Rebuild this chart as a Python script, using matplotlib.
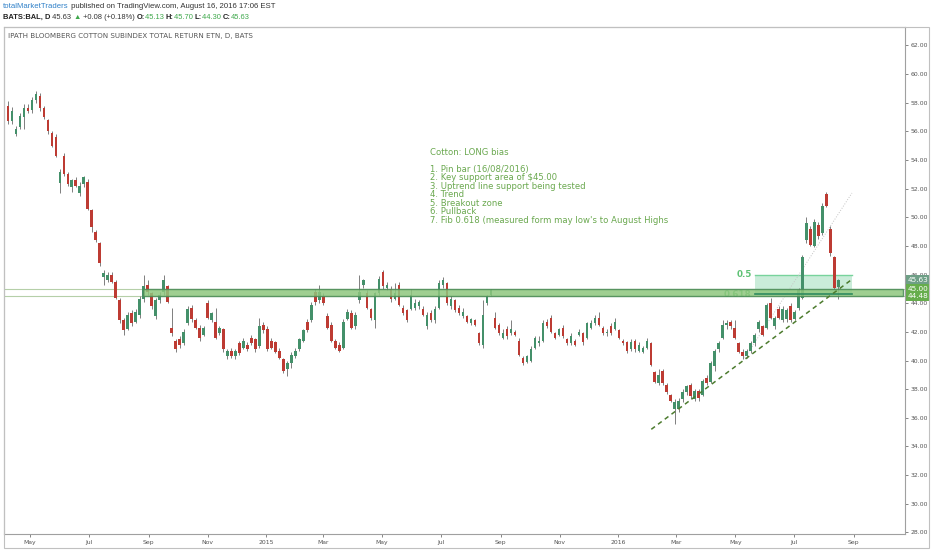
import numpy as np
import pandas as pd
import matplotlib
matplotlib.use("Agg")
import matplotlib.pyplot as plt
import matplotlib.dates as mdates
from matplotlib.patches import Rectangle

W, H = 932, 550

# daily-ish candles (Apr 2014 -> 16 Aug 2016)
opens = [57.8, 56.7, 55.8, 56.3, 57.0, 57.6, 57.5, 58.2, 58.5, 57.6, 56.8, 55.9, 55.6, 52.4, 54.3, 53.0, 52.1, 52.6, 51.7, 52.3,
         52.5, 50.5, 49.0, 48.2, 45.8, 45.6, 46.0, 45.5, 44.2, 42.8, 42.2, 43.3, 42.7, 43.2, 44.3, 45.3, 44.7, 43.1, 44.2, 44.8,
         45.2, 42.3, 41.4, 41.5, 41.2, 42.6, 43.7, 42.8, 42.3, 41.8, 44.0, 42.8, 42.7, 41.9, 42.2, 40.3, 40.7, 40.3, 41.2, 40.9,
         41.1, 41.6, 41.5, 41.0, 42.5, 42.2, 41.4, 41.3, 40.7, 40.1, 39.4, 39.8, 40.3, 40.8, 41.4, 42.7, 42.8, 44.8, 44.2, 44.5,
         43.1, 42.5, 41.4, 41.1, 40.9, 42.9, 43.3, 42.4, 44.2, 45.3, 44.7, 43.6, 42.8, 44.7, 46.2, 45.1, 45.0, 44.3, 45.3, 43.7,
         43.5, 43.6, 43.7, 43.8, 43.6, 42.4, 43.3, 42.8, 43.7, 45.3, 45.4, 43.8, 44.2, 43.7, 43.1, 43.1, 42.6, 42.8, 41.9, 41.1,
         44.0, 44.6, 43.0, 42.5, 41.6, 42.2, 41.9, 42.0, 41.4, 40.2, 39.9, 40.0, 40.9, 41.2, 41.4, 42.7, 43.0, 41.9, 41.8, 42.3,
         41.5, 41.2, 41.4, 41.8, 41.9, 41.6, 42.3, 42.6, 43.0, 42.3, 41.9, 42.4, 42.2, 42.1, 41.4, 41.3, 40.8, 41.4, 40.7, 40.6,
         40.9, 41.2, 39.2, 38.4, 39.3, 38.3, 37.6, 36.6, 36.6, 37.3, 37.8, 38.3, 37.3, 37.9, 37.6, 38.8, 38.5, 39.6, 40.8, 41.6,
         42.5, 42.7, 42.3, 41.2, 40.6, 40.3, 40.7, 41.2, 42.2, 42.4, 42.3, 44.0, 42.4, 43.6, 42.8, 42.9, 43.8, 42.9, 43.7, 44.4,
         48.4, 49.2, 48.0, 49.5, 48.9, 51.6, 49.2, 47.2, 45.13]
highs = [58.1, 57.7, 56.4, 57.3, 57.9, 57.9, 58.4, 58.8, 58.7, 57.8, 56.9, 56.0, 55.8, 53.4, 54.5, 53.2, 52.7, 52.8, 52.5, 52.9,
         52.7, 50.6, 49.1, 48.3, 46.3, 46.2, 46.2, 45.6, 44.4, 43.0, 43.4, 43.5, 43.6, 44.5, 46.0, 45.6, 44.8, 44.4, 44.8, 46.0,
         45.3, 43.7, 41.5, 41.7, 42.2, 43.8, 43.9, 43.0, 42.5, 42.4, 44.2, 43.4, 43.7, 42.4, 42.3, 40.8, 40.9, 40.8, 41.4, 41.6,
         41.3, 41.8, 41.6, 43.0, 42.7, 42.4, 41.6, 41.4, 40.9, 40.2, 40.0, 40.6, 40.9, 41.6, 42.2, 42.9, 44.1, 45.0, 45.3, 44.7,
         43.3, 42.7, 41.5, 41.3, 42.9, 43.6, 43.5, 43.4, 46.0, 45.7, 44.9, 43.7, 44.8, 45.9, 46.3, 45.5, 45.2, 45.4, 45.5, 43.9,
         43.6, 45.0, 44.3, 44.2, 43.8, 43.4, 43.5, 43.8, 45.6, 45.8, 45.5, 44.5, 44.3, 43.9, 43.7, 43.2, 43.0, 42.9, 42.0, 44.2,
         44.6, 45.0, 43.4, 42.6, 42.2, 42.4, 42.8, 42.1, 41.6, 40.3, 40.4, 41.0, 41.7, 41.7, 42.8, 42.9, 43.2, 42.0, 42.3, 42.5,
         41.6, 41.9, 41.5, 42.2, 42.0, 42.7, 42.8, 43.2, 43.4, 42.4, 42.2, 42.6, 43.0, 42.2, 41.5, 41.4, 41.5, 41.5, 41.3, 41.0,
         41.6, 41.3, 39.3, 39.4, 39.4, 38.4, 37.7, 37.3, 37.4, 38.0, 38.3, 38.4, 38.0, 38.0, 38.7, 39.0, 40.0, 40.8, 41.4, 42.8,
         42.8, 42.8, 42.8, 41.3, 40.8, 40.8, 41.4, 41.9, 42.8, 42.5, 44.0, 44.4, 43.1, 43.8, 43.8, 43.7, 44.0, 43.5, 45.1, 47.4,
         50.0, 49.4, 49.9, 49.7, 51.0, 51.8, 49.4, 47.3, 45.70]
lows = [56.5, 56.5, 55.7, 56.2, 56.2, 57.3, 57.3, 58.0, 57.4, 56.9, 55.8, 54.9, 54.2, 51.7, 52.9, 52.2, 51.8, 52.1, 51.5, 52.1,
        50.5, 49.0, 48.3, 46.6, 45.3, 45.5, 45.4, 44.3, 42.6, 41.8, 42.1, 42.4, 42.6, 43.0, 44.1, 44.6, 43.6, 42.9, 44.0, 44.6,
        44.0, 41.7, 40.6, 40.9, 41.1, 42.5, 42.7, 42.2, 41.4, 41.7, 42.9, 42.7, 41.5, 41.8, 40.6, 40.1, 40.2, 40.1, 40.4, 40.8,
        40.7, 41.1, 40.6, 40.9, 41.9, 40.7, 40.8, 40.5, 40.1, 39.1, 38.95, 39.5, 40.2, 40.7, 41.3, 42.0, 42.7, 43.9, 44.0, 43.9,
        42.2, 41.3, 40.8, 40.6, 40.8, 42.8, 42.2, 42.2, 44.0, 45.1, 43.6, 42.8, 42.3, 44.6, 45.0, 44.9, 44.1, 44.2, 43.8, 43.2,
        42.7, 43.5, 43.5, 43.6, 43.1, 42.2, 42.7, 42.6, 43.6, 45.1, 43.9, 43.6, 43.4, 43.2, 43.0, 42.6, 42.5, 42.4, 41.1, 40.9,
        43.9, 44.5, 42.2, 41.8, 41.5, 41.5, 41.8, 41.7, 40.3, 39.7, 39.8, 39.9, 40.8, 41.0, 41.3, 42.3, 41.9, 41.5, 41.7, 41.6,
        41.1, 41.1, 41.0, 41.7, 41.1, 41.5, 42.2, 42.5, 42.4, 41.8, 41.7, 41.8, 42.1, 41.5, 41.1, 40.5, 40.7, 40.6, 40.6, 40.5,
        40.8, 39.6, 38.4, 38.3, 38.3, 37.7, 37.1, 35.6, 36.4, 37.1, 37.6, 37.3, 37.2, 37.2, 37.5, 38.3, 38.4, 39.3, 40.6, 41.5,
        42.2, 42.2, 41.5, 40.5, 40.1, 40.2, 40.5, 41.0, 42.0, 41.7, 42.2, 42.9, 42.2, 42.9, 42.7, 42.7, 42.7, 42.8, 43.5, 44.3,
        48.2, 48.0, 47.9, 48.5, 48.8, 50.7, 47.3, 45.0, 44.30]
closes = [56.7, 57.4, 56.2, 57.1, 57.6, 57.4, 58.2, 58.6, 57.6, 57.0, 56.0, 55.0, 54.3, 53.2, 53.0, 52.3, 52.6, 52.2, 52.2, 52.8,
          50.6, 49.3, 48.4, 46.8, 46.1, 46.0, 45.5, 44.4, 42.8, 42.1, 43.2, 42.6, 43.4, 44.3, 45.2, 44.8, 43.8, 44.2, 44.6, 45.6,
          44.1, 41.9, 40.8, 41.1, 42.0, 43.6, 42.9, 42.3, 41.6, 42.3, 43.0, 43.3, 41.6, 42.3, 40.8, 40.7, 40.3, 40.7, 40.5, 41.4,
          40.8, 41.2, 40.8, 42.4, 42.1, 40.8, 40.9, 40.6, 40.2, 39.3, 39.8, 40.4, 40.7, 41.5, 42.1, 42.1, 43.9, 44.1, 44.8, 44.0,
          42.3, 41.4, 40.9, 40.7, 42.7, 43.4, 42.3, 43.2, 44.8, 45.6, 43.7, 43.0, 44.7, 45.7, 45.2, 45.3, 44.3, 44.7, 43.9, 43.3,
          42.8, 44.6, 44.0, 44.1, 43.2, 43.2, 42.8, 43.6, 45.4, 45.6, 44.0, 44.3, 43.5, 43.3, 43.4, 42.7, 42.9, 42.5, 41.2, 43.2,
          44.5, 44.9, 42.3, 41.9, 41.9, 41.7, 42.2, 41.8, 40.4, 39.8, 40.3, 40.8, 41.6, 41.4, 42.6, 42.4, 42.0, 41.6, 42.2, 41.7,
          41.2, 41.7, 41.1, 42.0, 41.3, 42.6, 42.6, 43.0, 42.5, 41.9, 42.0, 41.9, 42.7, 41.6, 41.2, 40.7, 41.3, 40.8, 41.1, 40.9,
          41.4, 39.7, 38.5, 39.0, 38.4, 37.8, 37.2, 37.1, 37.2, 37.8, 38.2, 37.5, 37.9, 37.4, 38.6, 38.4, 39.8, 40.7, 41.2, 42.5,
          42.6, 42.4, 41.6, 40.6, 40.3, 40.7, 41.2, 41.8, 42.7, 41.8, 43.9, 43.0, 43.0, 43.0, 43.6, 43.5, 42.8, 43.4, 44.9, 47.2,
          49.6, 48.1, 49.7, 48.7, 50.8, 50.8, 47.5, 45.1, 45.63]

first_day, last_day = "2014-04-08", "2016-08-16"

month_ticks = ["2014-05-01", "2014-07-01", "2014-09-01", "2014-11-01", "2015-01-01", "2015-03-01", "2015-05-01",
               "2015-07-01", "2015-09-01", "2015-11-01", "2016-01-01", "2016-03-01", "2016-05-01", "2016-07-01",
               "2016-09-01"]
month_labels = ["May", "Jul", "Sep", "Nov", "2015", "Mar", "May", "Jul", "Sep", "Nov", "2016", "Mar", "May", "Jul", "Sep"]
price_ticks = np.arange(28, 63, 2)

support_lo, support_hi = 44.48, 45.00
fib_half, fib_618 = 46.0, 44.62
notes = ["1. Pin bar (16/08/2016)", "2. Key support area of $45.00", "3. Uptrend line support being tested",
         "4. Trend", "5. Breakout zone", "6. Pullback", "7. Fib 0.618 (measured form may low's to August Highs"]

up_col, down_col, wick_col = "#44906a", "#bd3b33", "#7f7f7f"
note_col = "#6aa84f"

fig = plt.figure(figsize=(W / 100, H / 100), dpi=100)
ax = fig.add_axes([4 / W, 1 - 534 / H, 901 / W, 507 / H])

dates = pd.date_range(first_day, last_day, periods=len(closes))
x = mdates.date2num(dates)
o, h, l, c = map(np.array, (opens, highs, lows, closes))
colors = np.where(c >= o, up_col, down_col)

# support band + thin guide lines
d = lambda s: mdates.date2num(pd.Timestamp(s))
for lvl in (support_lo, support_hi):
    ax.axhline(lvl, color="#b5cfa8", lw=0.8, zorder=1)
ax.add_patch(Rectangle((d("2014-08-26"), support_lo), d("2016-10-22") - d("2014-08-26"), support_hi - support_lo,
                       facecolor="#8ec77e", edgecolor="#4b8b57", lw=1.0, alpha=0.85, zorder=4))

# fib box
ax.add_patch(Rectangle((d("2016-05-21"), fib_618), d("2016-08-30") - d("2016-05-21"), fib_half - fib_618,
                       facecolor="#a8e0c0", edgecolor="none", alpha=0.6, zorder=2))
ax.plot([d("2016-05-21"), d("2016-08-30")], [fib_half, fib_half], color="#78d39c", lw=1.0, zorder=2)
ax.plot([d("2016-05-21"), d("2016-08-30")], [fib_618, fib_618], color="#2f8a60", lw=1.2, zorder=5)
ax.text(d("2016-05-18"), fib_half, "0.5", color="#5fc275", fontsize=6.3, fontweight="bold", ha="right", va="center",
        zorder=2)
ax.text(d("2016-05-18"), fib_618, "0.618", color="#5fc275", fontsize=6.3, fontweight="bold", ha="right",
        va="center", zorder=2)
ax.plot([d("2016-05-11"), d("2016-08-30")], [40.2, 51.7], color="#c4c4c4", lw=0.7, ls=":", zorder=2)

# candles
ax.vlines(x, l, h, color=wick_col, lw=0.7, zorder=3)
ax.bar(x, np.maximum(np.abs(c - o), 0.06), bottom=np.minimum(o, c), width=2.6, color=colors, lw=0, zorder=3)

# uptrend line
ax.plot([d("2016-02-04"), d("2016-08-30")], [35.2, 45.67], color="#4d7c2f", lw=1.1, dashes=(3, 2.5), zorder=6)

# notes
ax.text(d("2015-06-20"), 54.5, "Cotton: LONG bias", color=note_col, fontsize=6.1, va="center")
for k, line in enumerate(notes):
    ax.text(d("2015-06-20"), 53.35 - k * 0.59, line, color=note_col, fontsize=6.1, va="center")

ax.set_xlim(d("2014-04-04"), d("2016-10-24"))
ax.set_ylim(27.89, 63.29)
ax.set_xticks([d(t) for t in month_ticks])
ax.set_xticklabels(month_labels)
ax.yaxis.tick_right()
ax.set_yticks(price_ticks)
ax.set_yticklabels([f"{v:.2f}" for v in price_ticks])
ax.tick_params(axis="both", labelsize=4.4, colors="#555555", length=2, width=0.5, pad=2)
for s in ax.spines.values():
    s.set_color("#a0a0a0")
    s.set_linewidth(0.8)

# price labels on the scale
for val, bg in ((45.63, "#6e9f86"), (45.00, "#66ad4c"), (44.48, "#66ad4c")):
    ax.text(1.003, val, f"{val:.2f}", transform=ax.get_yaxis_transform(), fontsize=5.2, color="white",
            ha="left", va="center", clip_on=False, zorder=10,
            bbox=dict(boxstyle="square,pad=0.22", fc=bg, ec="none"))

# outer frame
fig.add_artist(Rectangle((4 / W, 1 - 548 / H), 925 / W, 521 / H, transform=fig.transFigure,
                         fill=False, ec="#c0c0c0", lw=0.8))

fig.text(8 / W, 1 - 36 / H, "IPATH BLOOMBERG COTTON SUBINDEX TOTAL RETURN ETN, D, BATS",
         fontsize=5.1, color="#555555", va="center")

# header lines built piece by piece
renderer = fig.canvas.get_renderer()


def put_line(parts, x0, y0, size):
    xp = x0
    for txt, col, wt in parts:
        t = fig.text(xp / W, 1 - y0 / H, txt, color=col, fontweight=wt, fontsize=size,
                     family="Liberation Sans", va="center", ha="left")
        xp += t.get_window_extent(renderer).width


put_line([("totalMarketTraders", "#2f80c8", "normal"),
          (" published on TradingView.com, August 16, 2016 17:06 EST", "#333333", "normal")], 3, 7, 5.6)
put_line([("BATS:BAL, D", "#222222", "bold"), (" 45.63 ", "#333333", "normal"), ("\u25b2", "#3ea84b", "normal"),
          (" +0.08 (+0.18%) ", "#333333", "normal"), ("O:", "#222222", "bold"), ("45.13 ", "#3ea84b", "normal"),
          ("H:", "#222222", "bold"), ("45.70 ", "#3ea84b", "normal"), ("L:", "#222222", "bold"),
          ("44.30 ", "#3ea84b", "normal"), ("C:", "#222222", "bold"), ("45.63", "#3ea84b", "normal")], 3, 17.5, 5.4)

fig.savefig("out.png", dpi=100)
